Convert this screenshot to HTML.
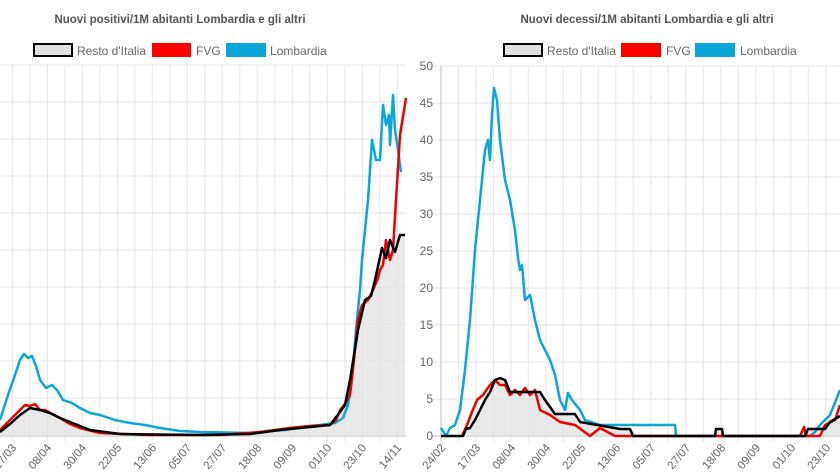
<!DOCTYPE html>
<html><head><meta charset="utf-8"><style>
html,body{margin:0;padding:0;background:#fff;}
svg{display:block;font-family:"Liberation Sans",sans-serif;}
</style></head><body>
<svg width="840" height="472" viewBox="0 0 840 472">
<rect width="840" height="472" fill="#fff"/>
<g stroke="#e6e6e6" stroke-width="1">
<!-- left horizontal grid -->
<line x1="0" y1="65" x2="406" y2="65"/><line x1="0" y1="102" x2="406" y2="102"/><line x1="0" y1="139" x2="406" y2="139"/><line x1="0" y1="176" x2="406" y2="176"/><line x1="0" y1="213" x2="406" y2="213"/><line x1="0" y1="250" x2="406" y2="250"/><line x1="0" y1="287" x2="406" y2="287"/><line x1="0" y1="324" x2="406" y2="324"/><line x1="0" y1="361" x2="406" y2="361"/><line x1="0" y1="398" x2="406" y2="398"/>
<!-- right horizontal grid -->
<line x1="432" y1="66" x2="840" y2="66"/><line x1="432" y1="103" x2="840" y2="103"/><line x1="432" y1="140" x2="840" y2="140"/><line x1="432" y1="177" x2="840" y2="177"/><line x1="432" y1="214" x2="840" y2="214"/><line x1="432" y1="251" x2="840" y2="251"/><line x1="432" y1="288" x2="840" y2="288"/><line x1="432" y1="325" x2="840" y2="325"/><line x1="432" y1="362" x2="840" y2="362"/><line x1="432" y1="399" x2="840" y2="399"/>
</g>
<g id="vl" stroke="#e6e6e6" stroke-width="1">
<line x1="-5.1" y1="65" x2="-5.1" y2="441"/><line x1="12.4" y1="65" x2="12.4" y2="441"/><line x1="29.9" y1="65" x2="29.9" y2="441"/><line x1="47.4" y1="65" x2="47.4" y2="441"/><line x1="64.8" y1="65" x2="64.8" y2="441"/><line x1="82.3" y1="65" x2="82.3" y2="441"/><line x1="99.8" y1="65" x2="99.8" y2="441"/><line x1="117.3" y1="65" x2="117.3" y2="441"/><line x1="134.8" y1="65" x2="134.8" y2="441"/><line x1="152.3" y1="65" x2="152.3" y2="441"/><line x1="169.8" y1="65" x2="169.8" y2="441"/><line x1="187.3" y1="65" x2="187.3" y2="441"/><line x1="204.8" y1="65" x2="204.8" y2="441"/><line x1="222.3" y1="65" x2="222.3" y2="441"/><line x1="239.8" y1="65" x2="239.8" y2="441"/><line x1="257.3" y1="65" x2="257.3" y2="441"/><line x1="274.8" y1="65" x2="274.8" y2="441"/><line x1="292.3" y1="65" x2="292.3" y2="441"/><line x1="309.8" y1="65" x2="309.8" y2="441"/><line x1="327.3" y1="65" x2="327.3" y2="441"/><line x1="344.8" y1="65" x2="344.8" y2="441"/><line x1="362.3" y1="65" x2="362.3" y2="441"/><line x1="379.8" y1="65" x2="379.8" y2="441"/><line x1="397.3" y1="65" x2="397.3" y2="441"/>
</g>
<g transform="translate(463.5,1)"><use href="#vl"/></g>
<rect x="-30" y="0" width="2" height="1" fill="#fff"/>
<!-- axes -->
<line x1="0" y1="436" x2="406" y2="436" stroke="#bbb"/>
<line x1="441" y1="66" x2="441" y2="441" stroke="#bbb"/>
<line x1="432" y1="436" x2="840" y2="436" stroke="#bbb"/>
<!-- titles -->
<text x="180" y="23" font-size="11.5" font-weight="bold" fill="#555" text-anchor="middle">Nuovi positivi/1M abitanti Lombardia e gli altri</text>
<text x="647" y="23" font-size="11.5" font-weight="bold" fill="#555" text-anchor="middle">Nuovi decessi/1M abitanti Lombardia e gli altri</text>
<!-- legends -->
<g font-size="12" fill="#666">
<rect x="34" y="44" width="38" height="12" fill="#e0e0e0" stroke="#000" stroke-width="2"/><text x="77" y="55">Resto d'Italia</text>
<rect x="152" y="43" width="39" height="14" fill="#f00"/><text x="196" y="55">FVG</text>
<rect x="226" y="43" width="40" height="14" fill="#0aa6d8"/><text x="270" y="55">Lombardia</text>
<rect x="504" y="44" width="38" height="12" fill="#e0e0e0" stroke="#000" stroke-width="2"/><text x="547" y="55">Resto d'Italia</text>
<rect x="621" y="43" width="40" height="14" fill="#f00"/><text x="666" y="55">FVG</text>
<rect x="695" y="43" width="40" height="14" fill="#0aa6d8"/><text x="740" y="55">Lombardia</text>
</g>
<!-- right y labels -->
<g font-size="12" fill="#666" text-anchor="end">
<text x="433" y="70">50</text><text x="433" y="107">45</text><text x="433" y="144">40</text><text x="433" y="181">35</text><text x="433" y="218">30</text><text x="433" y="255">25</text><text x="433" y="292">20</text><text x="433" y="329">15</text><text x="433" y="366">10</text><text x="433" y="403">5</text><text x="433" y="440">0</text>
</g>
<!-- x labels -->
<g font-size="11.5" fill="#666" text-anchor="end">
<text transform="translate(17,448) rotate(-50)">17/03</text>
<text transform="translate(52,448) rotate(-50)">08/04</text>
<text transform="translate(87,448) rotate(-50)">30/04</text>
<text transform="translate(122,448) rotate(-50)">22/05</text>
<text transform="translate(157,448) rotate(-50)">13/06</text>
<text transform="translate(192,448) rotate(-50)">05/07</text>
<text transform="translate(227,448) rotate(-50)">27/07</text>
<text transform="translate(262,448) rotate(-50)">18/08</text>
<text transform="translate(297,448) rotate(-50)">09/09</text>
<text transform="translate(332,448) rotate(-50)">01/10</text>
<text transform="translate(367,448) rotate(-50)">23/10</text>
<text transform="translate(402,448) rotate(-50)">14/11</text>
<text transform="translate(446,448) rotate(-50)">24/02</text>
<text transform="translate(481,448) rotate(-50)">17/03</text>
<text transform="translate(516,448) rotate(-50)">08/04</text>
<text transform="translate(551,448) rotate(-50)">30/04</text>
<text transform="translate(586,448) rotate(-50)">22/05</text>
<text transform="translate(621,448) rotate(-50)">13/06</text>
<text transform="translate(656,448) rotate(-50)">05/07</text>
<text transform="translate(691,448) rotate(-50)">27/07</text>
<text transform="translate(726,448) rotate(-50)">18/08</text>
<text transform="translate(761,448) rotate(-50)">09/09</text>
<text transform="translate(796,448) rotate(-50)">01/10</text>
<text transform="translate(831,448) rotate(-50)">23/10</text>
</g>
<!-- LEFT CHART -->
<polygon fill="#e3e3e3" fill-opacity="0.8" points="0,436 0,432 20,415 30,408 50,413 70,422 90,430 120,434 200,435 250,434 280,430 330,425 340,412 350,380 358,330 365,300 371,296 375,280 382,248 386,258 390,240 395,252 400,235 405,235 405,436"/>
<g fill="none" stroke-width="2.5" stroke-linejoin="round">
<polyline stroke="#0aa6d8" points="0,420 8,395 15,375 20,360 24,354 28,358 32,356 36,366 40,380 46,388 52,385 57,390 63,400 72,403 80,408 90,413 100,415 115,420 130,423 145,425 160,428 180,431 200,432 250,433 270,431 285,430 300,427 320,425 335,423 343,418 348,405 352,380 356,330 360,290 362,260 365,230 368,200 372,140 376,160 380,160 383,105 386,125 389,115 390,145 393,95 395,130 398,150 401,172"/>
<polyline stroke="#e00" points="0,430 10,420 20,410 25,405 30,406 35,404 40,410 45,410 52,414 60,418 70,424 80,428 100,433 150,435 220,435 260,432 275,430 290,428 310,426 330,425 336,420 340,410 345,404 350,395 354,360 358,320 362,305 368,300 373,290 378,278 380,270 383,265 386,240 390,260 393,250 396,200 400,135 406,98"/>
<polyline stroke="#000" points="0,432 10,424 20,415 30,408 40,410 50,413 60,418 70,422 90,430 120,434 200,435 250,434 280,430 300,428 330,425 340,412 345,405 350,380 358,330 365,300 371,296 375,280 382,248 386,258 390,240 395,252 400,235 405,235"/>
</g>
<!-- RIGHT CHART -->
<polygon fill="#e3e3e3" fill-opacity="0.8" points="441,436 463,436 466,429 470,428 475,420 480,410 485,400 490,392 495,380 500,378 505,380 510,392 540,392 545,400 550,407 555,414 575,414 580,422 620,429 630,429 633,436 715,436 716,429 722,429 723,436 805,436 808,429 825,429 830,422 840,416 840,436"/>
<g fill="none" stroke-width="2.5" stroke-linejoin="round">
<polyline stroke="#0aa6d8" points="441,428 446,436 450,428 455,425 460,410 465,370 470,320 475,250 480,200 485,150 488,140 490,160 492,115 494,88 497,100 500,140 505,180 510,200 515,230 518,258 520,270 522,265 525,300 530,295 535,320 540,340 545,350 550,360 555,375 560,400 565,410 568,393 572,400 580,410 585,420 600,425 620,425 650,425 675,425 676,436 810,436 815,432 820,425 830,415 840,390"/>
<polyline stroke="#e00" points="462,436 467,425 472,412 477,400 483,395 490,385 495,380 500,385 505,385 510,395 515,390 520,395 525,388 530,395 535,390 540,410 550,415 560,422 575,425 590,436 600,428 615,436 800,436 804,427 806,436 820,436 825,425 835,420 840,405"/>
<polyline stroke="#000" points="441,436 463,436 466,429 470,428 475,420 480,410 485,400 490,392 495,380 500,378 505,380 510,392 540,392 545,400 550,407 555,414 575,414 580,422 620,429 630,429 633,436 715,436 716,429 722,429 723,436 805,436 808,429 825,429 830,422 840,416"/>
</g>
</svg>
</body></html>
